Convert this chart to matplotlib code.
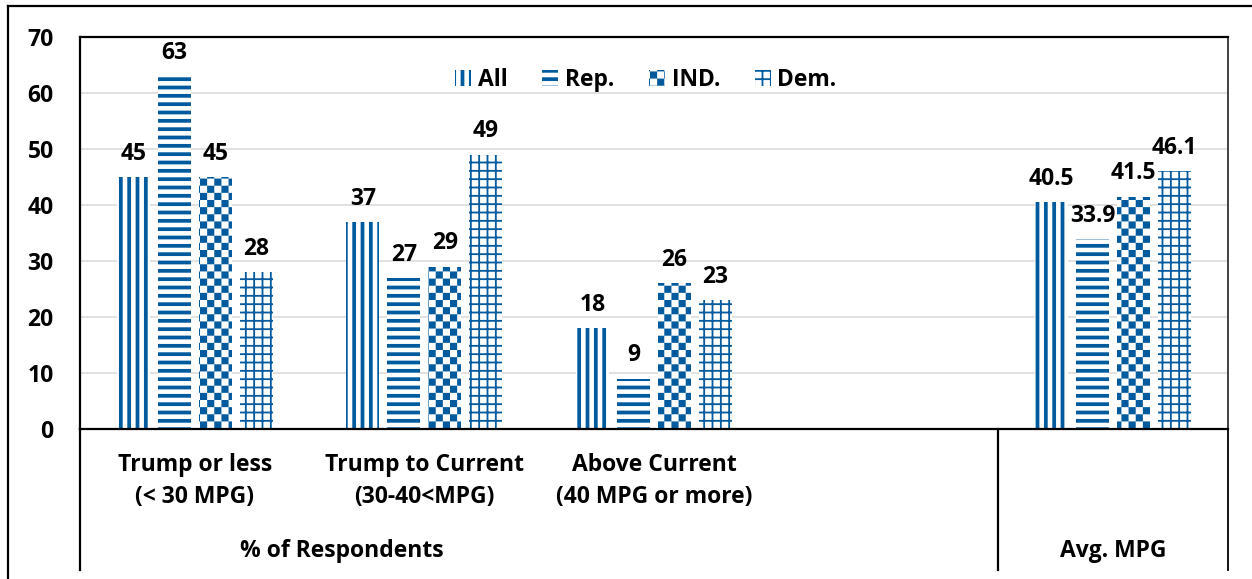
import numpy as np
import matplotlib
matplotlib.use("Agg")
import matplotlib.pyplot as plt
import matplotlib.hatch as mhatch
from matplotlib.path import Path
from matplotlib.lines import Line2D

# data
groups = ["Trump or less\n(< 30 MPG)", "Trump to Current\n(30-40<MPG)",
          "Above Current\n(40 MPG or more)", "", ""]
series = ["All", "Rep.", "IND.", "Dem."]
all_vals = [45, 37, 18, None, 40.5]
rep_vals = [63, 27, 9, None, 33.9]
ind_vals = [45, 29, 26, None, 41.5]
dem_vals = [28, 49, 23, None, 46.1]
outer_labels = ["% of Respondents", "Avg. MPG"]
yticks = [0, 10, 20, 30, 40, 50, 60, 70]

blue = "#005A9E"


# checkerboard hatch, used for the "o" character
class Checker(mhatch.HatchPatternBase):
    def __init__(self, hatch, density):
        self.n = 14 if "o" in hatch else 0
        self.num_vertices = (self.n * self.n // 2) * 5

    def set_vertices_and_codes(self, vertices, codes):
        s = 1.0 / self.n
        k = 0
        for i in range(self.n):
            for j in range(self.n):
                if (i + j) % 2 == 0:
                    x, y = i * s, j * s
                    vertices[k:k + 5] = [(x, y), (x + s, y), (x + s, y + s), (x, y + s), (x, y)]
                    codes[k:k + 5] = [Path.MOVETO, Path.LINETO, Path.LINETO,
                                      Path.LINETO, Path.CLOSEPOLY]
                    k += 5


mhatch._hatch_types = [t for t in mhatch._hatch_types if t is not mhatch.SmallCircles] + [Checker]

plt.rcParams["font.family"] = ["Open Sans", "DejaVu Sans"]
plt.rcParams["font.weight"] = "bold"
fs = 16.5

fig = plt.figure(figsize=(12.52, 5.79), dpi=100)
ax = fig.add_axes([80 / 1252, 150 / 579, 1148 / 1252, 392 / 579])

x = np.arange(len(groups))
w = 0.144
step = 0.1786
styles = [("||", 2.7), ("--", 2.7), ("o", 0.0), ("++", 1.3)]
handles = []
for i, (name, vals) in enumerate(zip(series, [all_vals, rep_vals, ind_vals, dem_vals])):
    hatch, hlw = styles[i]
    xs = [xi + (i - 1.5) * step for xi, v in zip(x, vals) if v is not None]
    vs = [v for v in vals if v is not None]
    plt.rcParams["hatch.linewidth"] = hlw
    bars = ax.bar(xs, vs, width=w, facecolor="white", edgecolor=blue,
                  linewidth=0, hatch=hatch, label=name, zorder=2)
    for b in bars:
        try:
            b.set_hatch_linewidth(hlw)
        except AttributeError:
            pass
    handles.append(bars)
    for xi, v in zip(xs, vs):
        ax.annotate(f"{v:g}", (xi, v), xytext=(0, 8), textcoords="offset points",
                    ha="center", va="bottom", fontsize=fs, fontweight="bold")

ax.set_xlim(-0.5, len(groups) - 0.5)
ax.set_ylim(0, 70)
ax.set_yticks(yticks)
ax.tick_params(axis="y", length=0, pad=19, labelsize=fs)
ax.set_xticks([])
ax.grid(axis="y", color="#D9D9D9", linewidth=1.1, zorder=0)
ax.set_axisbelow(True)
for s in ["top", "bottom", "left"]:
    ax.spines[s].set_linewidth(1.6)
    ax.spines[s].set_color("black")
ax.spines["right"].set_linewidth(1.3)
ax.spines["right"].set_color("#333333")

leg = ax.legend(handles=handles, loc="center", bbox_to_anchor=(0.493, 0.89), ncol=4,
                frameon=False, fontsize=fs, handlelength=0.7, handleheight=0.65,
                handletextpad=0.3, columnspacing=1.5)
for p, (hatch, hlw) in zip(leg.get_patches(), styles):
    try:
        p.set_hatch_linewidth(hlw)
    except AttributeError:
        pass

# multi-level category labels
trans = ax.get_xaxis_transform()
for xi, g in zip(x, groups):
    if g:
        l1, l2 = g.split("\n")
        ax.text(xi, -36 / 392, l1, transform=trans, ha="center", va="center", fontsize=fs)
        ax.text(xi, -68 / 392, l2, transform=trans, ha="center", va="center", fontsize=fs)
ax.text(0.64, -122 / 392, outer_labels[0], transform=trans, ha="center", va="center", fontsize=fs)
ax.text(4, -122 / 392, outer_labels[1], transform=trans, ha="center", va="center", fontsize=fs)

ybot = -141 / 392
for xv, lw in [(-0.5, 1.6), (3.5, 1.6), (4.5, 1.3)]:
    ax.plot([xv, xv], [0, ybot], transform=trans, color="black", linewidth=lw, clip_on=False)

# outer border
fig.add_artist(Line2D([8 / 1252, 8 / 1252], [0, 1 - 6 / 579], color="black", linewidth=1.6))
fig.add_artist(Line2D([8 / 1252, 1], [1 - 6 / 579, 1 - 6 / 579], color="black", linewidth=1.6))

fig.savefig("out.png", dpi=100)
